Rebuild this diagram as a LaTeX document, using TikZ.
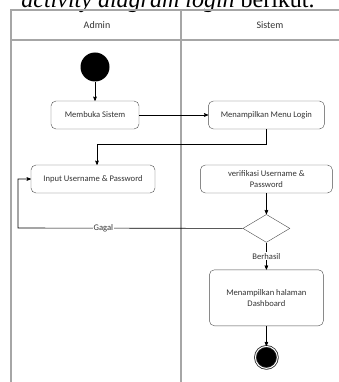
\documentclass[tikz,border=0pt]{standalone}
\usepackage{fontspec}
\setmainfont{Carlito}
\newfontfamily\bodyserif{Liberation Serif}
\usetikzlibrary{arrows,positioning,shapes.geometric}

\begin{document}
\begin{tikzpicture}[x=1pt,y=-1pt,->,>=stealth',semithick,
  lane/.style={-,draw=gray!70,line width=1.2pt},
  act/.style={rectangle,rounded corners=5pt,draw=black!70,thin,align=center,
    minimum height=28pt,inner sep=2pt,text=black!80,font=\fontsize{8.6}{10.5}\selectfont},
  startnode/.style={circle,fill=black,minimum size=29pt,inner sep=0pt},
  endnode/.style={circle,fill=black,draw=black!85,double=white,double distance=1pt,
    line width=0.8pt,minimum size=22pt,inner sep=0pt},
  decision/.style={diamond,draw=black!70,thin,minimum width=47pt,minimum height=28pt,inner sep=0pt},
  lbl/.style={fill=white,inner sep=1pt,text=black!80,font=\fontsize{8.6}{9}\selectfont},
  head/.style={text=black!80,font=\fontsize{10}{11}\selectfont}]
    \clip (0,0) rectangle (339,382);
    \node[anchor=base,font=\bodyserif\fontsize{24}{24}\selectfont] (title) at (168,8)
      {\textit{activity diagram login} berikut.};
    \draw[lane] (11,10) rectangle (360,400);
    \draw[lane] (11,40) -- (360,40);
    \draw[lane] (181,10) -- (181,400);
    \node[head] (admin) at (97,25) {Admin};
    \node[head] (sistem) at (270,25) {Sistem};

    \node[startnode] (start) at (95,67) {};
    \node[act,minimum width=88pt] (buka) [below = 19pt of start] {Membuka Sistem};
    \node[act,minimum width=116pt] (menu) [right = 69pt of buka] {Menampilkan Menu Login};
    \node[act,minimum width=124pt] (input) at (93,179) {Input Username \& Password};
    \node[act,minimum width=132pt] (verif) [right = 45pt of input]
      {verifikasi Username \&\\Password};
    \node[decision] (dec) [below = 21pt of verif] {};
    \node[act,minimum width=114pt,minimum height=56pt] (dash) [below = 27pt of dec]
      {Menampilkan halaman\\Dashboard};
    \node[endnode] (end) [below = 20pt of dash] {};
    \coordinate (back) at (18,228);

    \path (start) edge (buka)
    (buka) edge (menu)
    (verif) edge (dec)
    (dec) edge node[lbl] {Berhasil} (dash)
    (dash) edge (end);
    \draw (menu.south) -- ++(0,15) -| ([xshift=4pt]input.north);
    \draw (dec.west) -- node[lbl,pos=0.62] {Gagal} (back) |- (input.west);
\end{tikzpicture}
\end{document}
